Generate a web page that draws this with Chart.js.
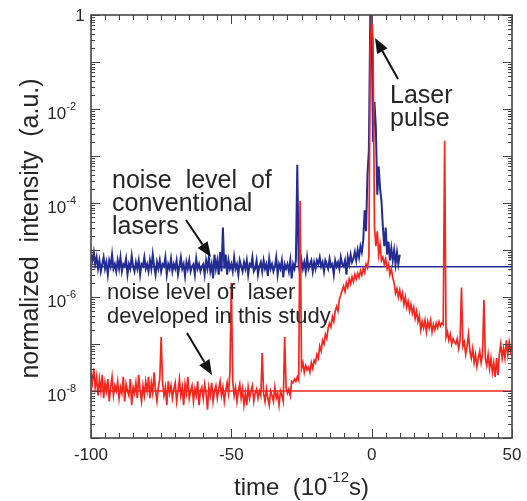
<!DOCTYPE html>
<html>
<head>
<meta charset="utf-8">
<script src="https://cdn.jsdelivr.net/npm/chart.js"></script>
<style>
  html, body { margin: 0; padding: 0; background: #fff; }
  #wrap { width: 527px; height: 501px; }
</style>
</head>
<body>
<div id="wrap"><canvas id="myChart" width="527" height="501"></canvas></div>
<script>
// traces are sampled every 0.5 ps starting at -100 ps
var timeStart = -100;
var timeStep = 0.5;

// conventional laser, -100 .. 10 ps
var blueIntensity = [
  8e-6, 6e-6, 9e-6, 5e-6, 7e-6, 4e-6, 6e-6, 3.5e-6, 5e-6, 7e-6, 4e-6, 5.5e-6, 3e-6, 6e-6, 4.5e-6, 8e-6, 4e-6, 5e-6, 3.5e-6, 6e-6,
  4e-6, 7e-6, 3.5e-6, 5e-6, 4.5e-6, 6.5e-6, 3e-6, 5e-6, 4e-6, 7.5e-6, 4.5e-6, 3.5e-6, 5.5e-6, 4e-6, 6e-6, 3e-6, 5e-6, 4.5e-6, 7e-6, 4e-6,
  5e-6, 3.5e-6, 6e-6, 4e-6, 8e-6, 4.5e-6, 3e-6, 5.5e-6, 4e-6, 6e-6, 3.5e-6, 5e-6, 4.5e-6, 7e-6, 3e-6, 5e-6, 4e-6, 6.5e-6, 3.5e-6, 5e-6,
  4e-6, 6e-6, 3e-6, 4.5e-6, 7e-6, 4e-6, 5e-6, 2.8e-6, 5.5e-6, 4e-6, 6e-6, 3.5e-6, 4.5e-6, 5e-6, 3e-6, 6.5e-6, 4e-6, 5e-6, 3.5e-6, 4.5e-6,
  5e-6, 3e-6, 6e-6, 4e-6, 7e-6, 3.5e-6, 5e-6, 2.5e-6, 8e-6, 4e-6, 6e-6, 3e-6, 9e-6, 3.5e-6, 3e-5, 4e-6, 8e-6, 3e-6, 6e-6, 4e-6,
  5e-6, 3.5e-6, 7e-6, 4e-6, 5e-6, 3e-6, 6e-6, 4.5e-6, 3.5e-6, 5.5e-6, 4e-6, 6e-6, 3e-6, 5e-6, 4.5e-6, 7e-6, 3.5e-6, 4e-6, 6e-6, 3e-6,
  4.5e-6, 5.5e-6, 3.5e-6, 6e-6, 4e-6, 5e-6, 2.8e-6, 6.5e-6, 4e-6, 5e-6, 3.5e-6, 4.5e-6, 7e-6, 3e-6, 5e-6, 4e-6, 6e-6, 2.6e-6, 5e-6, 4e-6,
  5e-6, 3.5e-6, 6e-6, 2.5e-6, 5e-6, 4e-6, 6e-6, 6.5e-4, 5e-6, 3e-6, 6e-6, 4e-6, 5.5e-6, 3.5e-6, 7e-6, 4e-6, 5e-6, 6e-6, 3.5e-6, 5.5e-6,
  4e-6, 6e-6, 5e-6, 7e-6, 4.5e-6, 5.5e-6, 3.5e-6, 6e-6, 5e-6, 4e-6, 6.5e-6, 4.5e-6, 5e-6, 3e-6, 6e-6, 4.5e-6, 5.5e-6, 4e-6, 7e-6, 5e-6,
  4.5e-6, 6e-6, 3e-6, 7e-6, 5e-6, 8e-6, 5.5e-6, 6.5e-6, 9e-6, 6e-6, 1e-5, 7e-6, 1.2e-5, 9e-6, 1.6e-5, 7e-5, 2.5e-5, 4e-4, 1.3e-3, 1,
  0.4, 2e-3, 1.4e-2, 4e-3, 1.5e-4, 6e-4, 2e-4, 1.1e-4, 3e-5, 1.2e-5, 3e-5, 8e-6, 1.5e-5, 6e-6, 1.1e-5, 6e-6, 1e-5, 5e-6, 9e-6, 5e-6,
  8e-6
];

// laser of this study, -100 .. 50 ps
var redIntensity = [
  2.5e-8, 1.5e-8, 3e-8, 1.2e-8, 2e-8, 8e-9, 1.8e-8, 1e-8, 2.2e-8, 7e-9, 1.5e-8, 1e-8, 1.8e-8, 6e-9, 1.2e-8, 2e-8, 8e-9, 1.3e-8, 1e-8, 1.6e-8,
  7e-9, 1.2e-8, 9e-9, 2e-8, 6e-9, 1.4e-8, 1e-8, 8e-9, 1.8e-8, 5e-9, 1.2e-8, 9e-9, 1.5e-8, 7e-9, 2.2e-8, 1e-8, 6e-9, 1.3e-8, 8e-9, 1.6e-8,
  1e-8, 2e-8, 7e-9, 1.5e-8, 9e-9, 2.5e-8, 1e-8, 6e-9, 1.2e-8, 1.8e-8, 1.4e-7, 1.5e-8, 8e-9, 1.2e-8, 5e-9, 1.6e-8, 9e-9, 1.3e-8, 7e-9, 1.1e-8,
  1.5e-8, 6e-9, 1e-8, 1.8e-8, 8e-9, 1.2e-8, 5e-9, 1.4e-8, 9e-9, 2e-8, 7e-9, 1e-8, 1.3e-8, 6e-9, 1.1e-8, 8e-9, 1.6e-8, 5e-9, 1e-8, 1.2e-8,
  7e-9, 1.4e-8, 9e-9, 4e-9, 1.2e-8, 8e-9, 1.5e-8, 6e-9, 1e-8, 1.3e-8, 7e-9, 1.1e-8, 1.6e-8, 8e-9, 1.2e-8, 6e-9, 1e-8, 1.5e-8, 9e-9, 2.5e-8,
  2e-6, 1.6e-8, 8e-9, 1.2e-8, 6e-9, 1e-8, 1.4e-8, 7e-9, 1.1e-8, 5e-9, 9e-9, 5e-9, 1.2e-8, 7e-9, 1e-8, 1.3e-8, 6e-9, 9e-9, 1.1e-8, 7e-9,
  1e-8, 8e-9, 6.4e-8, 9e-9, 6e-9, 1.1e-8, 7e-9, 5e-9, 1e-8, 8e-9, 6e-9, 1.2e-8, 7e-9, 9e-9, 5e-9, 1e-8, 8e-9, 6e-9, 1.4e-7, 1.2e-8,
  9e-9, 1.1e-8, 8e-9, 1.6e-8, 1.5e-8, 1.8e-8, 1.6e-8, 2e-8, 1.7e-8, 1.1e-4, 3e-8, 4e-8, 2.5e-8, 3.5e-8, 2.8e-8, 3.2e-8, 2.5e-8, 4e-8, 3e-8, 4.5e-8,
  4e-8, 6e-8, 5e-8, 9e-8, 7e-8, 1.2e-7, 1e-7, 1.6e-7, 1.3e-7, 2.2e-7, 2.8e-7, 2.3e-7, 3.8e-7, 3e-7, 5e-7, 6.3e-7, 5e-7, 9e-7, 1.1e-6, 1.4e-6,
  1.7e-6, 1.3e-6, 2e-6, 1.6e-6, 2.4e-6, 1.9e-6, 2.7e-6, 2.1e-6, 3e-6, 2.4e-6, 3.2e-6, 2.6e-6, 3.6e-6, 2.9e-6, 4e-6, 3.3e-6, 5e-6, 4.2e-6, 7e-6, 0.2,
  1, 0.3, 3e-5, 1.2e-5, 2.5e-5, 8e-6, 1.3e-5, 6e-6, 7e-6, 5e-6, 6.5e-6, 4e-6, 5e-6, 3e-6, 4e-6, 2.6e-6, 2e-6, 1.2e-6, 1.5e-6, 1e-6,
  1.4e-6, 9e-7, 1.2e-6, 7e-7, 1e-6, 6e-7, 8e-7, 5e-7, 7e-7, 4.5e-7, 6e-7, 3.5e-7, 5e-7, 3e-7, 4e-7, 2e-7, 3e-7, 2.2e-7, 3.2e-7, 1.8e-7,
  3e-7, 2.2e-7, 3.2e-7, 1.8e-7, 2.6e-7, 2e-7, 2.8e-7, 2.2e-7, 3e-7, 2.4e-7, 2.8e-7, 2.6e-7, 2.1e-3, 1.4e-7, 1.8e-7, 1.2e-7, 1.6e-7, 1e-7, 1.3e-7, 1.1e-7,
  1e-7, 1.3e-7, 8e-8, 1.2e-7, 1.6e-6, 9e-8, 1.1e-7, 6e-8, 9e-8, 1.6e-7, 7e-8, 5e-8, 8e-8, 4e-8, 6e-8, 3.3e-8, 5e-8, 7e-8, 4e-8, 6e-8,
  8.7e-7, 5e-8, 3.5e-8, 6e-8, 3e-8, 5e-8, 2.5e-8, 4e-8, 2e-8, 5e-8, 2.2e-8, 6e-8, 1e-7, 5e-8, 8e-8, 5e-8, 1.2e-7, 6e-8, 1.1e-7, 7e-8,
  9e-8
];

// noise-floor reference lines
var blueFloor = 4.4e-6;
var redFloor = 1e-8;

var timeMin = -100, timeMax = 50;
var yMin = 1e-9, yMax = 1;
var xTickLabels = [-100, -50, 0, 50];
var yTickExponents = [0, -2, -4, -6, -8];

var RED = '#f5261c';
var BLUE = '#232b95';
var INK = '#262626';
var FONT = '"Liberation Sans", Arial, Helvetica, sans-serif';

function toPoints(values) {
  var pts = [];
  for (var i = 0; i < values.length; i++) {
    pts.push({ x: timeStart + i * timeStep, y: values[i] });
  }
  return pts;
}

function drawSup(ctx, x, y, base, sup, size, supSize, align) {
  ctx.font = size + 'px ' + FONT;
  var w1 = ctx.measureText(base).width;
  ctx.font = supSize + 'px ' + FONT;
  var w2 = ctx.measureText(sup).width;
  var left = align === 'right' ? x - w1 - w2 : (align === 'center' ? x - (w1 + w2) / 2 : x);
  ctx.textAlign = 'left';
  ctx.textBaseline = 'middle';
  ctx.font = size + 'px ' + FONT;
  ctx.fillText(base, left, y);
  ctx.font = supSize + 'px ' + FONT;
  ctx.fillText(sup, left + w1, y - size * 0.42);
  return left + w1 + w2;
}

function arrow(ctx, x1, y1, x2, y2) {
  var ang = Math.atan2(y2 - y1, x2 - x1);
  var len = 15, half = 6;
  var bx = x2 - len * Math.cos(ang), by = y2 - len * Math.sin(ang);
  ctx.beginPath();
  ctx.moveTo(x1, y1);
  ctx.lineTo(bx, by);
  ctx.lineWidth = 2;
  ctx.strokeStyle = '#111';
  ctx.stroke();
  ctx.beginPath();
  ctx.moveTo(x2, y2);
  ctx.lineTo(bx + half * Math.sin(ang), by - half * Math.cos(ang));
  ctx.lineTo(bx - half * Math.sin(ang), by + half * Math.cos(ang));
  ctx.closePath();
  ctx.fillStyle = '#111';
  ctx.fill();
}

var framePlugin = {
  id: 'frame',
  afterDraw: function(chart) {
    var ctx = chart.ctx;
    var a = chart.chartArea;
    var xs = chart.scales.x, ys = chart.scales.y;
    ctx.save();

    // inward ticks on all four sides
    ctx.strokeStyle = '#444';
    ctx.lineWidth = 1;
    ctx.beginPath();
    for (var t = timeMin; t <= timeMax; t += 5) {
      var px = Math.round(xs.getPixelForValue(t)) + 0.5;
      var L = (t % 50 === 0) ? 9 : 5;
      ctx.moveTo(px, a.bottom); ctx.lineTo(px, a.bottom - L);
      ctx.moveTo(px, a.top); ctx.lineTo(px, a.top + L);
    }
    for (var e = -9; e <= 0; e++) {
      for (var k = 1; k <= 9; k++) {
        var v = k * Math.pow(10, e);
        if (v > yMax * 1.0001) break;
        var py = Math.round(ys.getPixelForValue(v)) + 0.5;
        var Ly = (k === 1) ? 9 : 4;
        ctx.moveTo(a.left, py); ctx.lineTo(a.left + Ly, py);
        ctx.moveTo(a.right, py); ctx.lineTo(a.right - Ly, py);
      }
    }
    ctx.stroke();

    // frame
    ctx.lineWidth = 1.6;
    ctx.strokeRect(a.left, a.top, a.right - a.left, a.bottom - a.top);

    ctx.fillStyle = INK;
    // x tick labels
    ctx.font = '17px ' + FONT;
    ctx.textAlign = 'center';
    ctx.textBaseline = 'middle';
    xTickLabels.forEach(function(t) {
      ctx.fillText(String(t), xs.getPixelForValue(t), a.bottom + 17);
    });
    // y tick labels
    yTickExponents.forEach(function(ex) {
      var py = ys.getPixelForValue(Math.pow(10, ex));
      if (ex === 0) {
        ctx.font = '17px ' + FONT;
        ctx.textAlign = 'center';
        ctx.textBaseline = 'middle';
        ctx.fillText('1', 80, py + 1);
      } else {
        drawSup(ctx, 76, py + 5, '10', String(ex), 17, 11, 'right');
      }
    });

    // axis titles
    ctx.save();
    ctx.translate(31, (a.top + a.bottom) / 2 + 2);
    ctx.rotate(-Math.PI / 2);
    ctx.font = '25px ' + FONT;
    ctx.textAlign = 'center';
    ctx.textBaseline = 'middle';
    ctx.fillText('normalized  intensity  (a.u.)', 0, 0);
    ctx.restore();

    ctx.font = '24px ' + FONT;
    var wA = ctx.measureText('time  (10').width;
    ctx.font = '15px ' + FONT;
    var wB = ctx.measureText('-12').width;
    ctx.font = '24px ' + FONT;
    var wC = ctx.measureText('s)').width;
    var x0 = (a.left + a.right) / 2 - (wA + wB + wC) / 2;
    var xe = drawSup(ctx, x0, 488, 'time  (10', '-12', 24, 15, 'left');
    ctx.font = '24px ' + FONT;
    ctx.textBaseline = 'middle';
    ctx.fillText('s)', xe, 488);

    // annotations
    ctx.fillStyle = INK;
    ctx.textAlign = 'left';
    ctx.textBaseline = 'middle';
    ctx.font = '25px ' + FONT;
    ctx.fillText('noise  level  of', 112, 181);
    ctx.fillText('conventional', 112, 204);
    ctx.fillText('lasers', 112, 227);
    ctx.fillText('Laser', 390, 96);
    ctx.fillText('pulse', 390, 119);
    ctx.font = '22px ' + FONT;
    ctx.fillText('noise level of  laser', 107, 293);
    ctx.fillText('developed in this study', 107, 317);

    arrow(ctx, 398, 79, 375, 38);
    arrow(ctx, 186, 220, 211, 257);
    arrow(ctx, 187, 333, 212, 375);

    ctx.restore();
  }
};

var ctx = document.getElementById('myChart').getContext('2d');
var myChart = new Chart(ctx, {
  type: 'line',
  data: {
    datasets: [
      {
        label: 'this study',
        data: toPoints(redIntensity),
        borderColor: RED,
        borderWidth: 1.7,
        order: 0
      },
      {
        label: 'floor (this study)',
        data: [{ x: timeMin, y: redFloor }, { x: timeMax, y: redFloor }],
        borderColor: RED,
        borderWidth: 1.6,
        order: 1
      },
      {
        label: 'conventional',
        data: toPoints(blueIntensity),
        borderColor: BLUE,
        borderWidth: 2,
        order: 2
      },
      {
        label: 'floor (conventional)',
        data: [{ x: timeMin, y: blueFloor }, { x: timeMax, y: blueFloor }],
        borderColor: BLUE,
        borderWidth: 1.6,
        order: 3
      }
    ]
  },
  options: {
    responsive: false,
    animation: false,
    devicePixelRatio: 1,
    layout: { padding: { left: 91, right: 15, top: 15, bottom: 63 } },
    elements: { point: { radius: 0 }, line: { tension: 0, fill: false } },
    plugins: { legend: { display: false }, tooltip: { enabled: false } },
    scales: {
      x: { type: 'linear', min: timeMin, max: timeMax, display: false },
      y: { type: 'logarithmic', min: yMin, max: yMax, display: false }
    }
  },
  plugins: [framePlugin]
});
</script>
</body>
</html>
